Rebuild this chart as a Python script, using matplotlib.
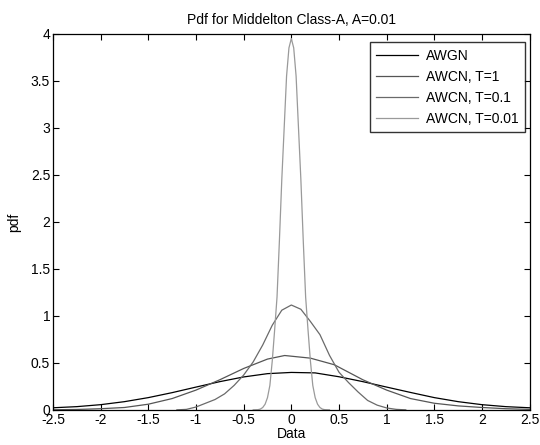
import numpy as np
import matplotlib.pyplot as plt

plt.rcParams['font.family'] = ['Liberation Sans', 'DejaVu Sans']

# --- DATA ---
x_awgn = [-2.5, -2.25, -2.0, -1.75, -1.5, -1.25, -1.0, -0.75, -0.5, -0.25, 0.0,
          0.25, 0.5, 0.75, 1.0, 1.25, 1.5, 1.75, 2.0, 2.25, 2.5]
y_awgn = [0.022, 0.034, 0.055, 0.087, 0.13, 0.183, 0.242, 0.300, 0.350, 0.385, 0.398,
          0.393, 0.352, 0.300, 0.242, 0.185, 0.13, 0.087, 0.055, 0.034, 0.022]

x_t1 = [-2.5, -2.25, -2.0, -1.75, -1.5, -1.25, -1.0, -0.75, -0.5, -0.25, -0.07,
        0.2, 0.45, 0.75, 1.0, 1.25, 1.5, 1.75, 2.0, 2.25, 2.5]
y_t1 = [0.001, 0.004, 0.012, 0.025, 0.06, 0.12, 0.21, 0.32, 0.44, 0.54, 0.578,
        0.55, 0.48, 0.32, 0.21, 0.12, 0.07, 0.042, 0.025, 0.012, 0.005]

x_t01 = [-1.2, -1.1, -1.0, -0.9, -0.8, -0.7, -0.6, -0.5, -0.4, -0.3, -0.2, -0.1, 0.0,
         0.1, 0.2, 0.3, 0.4, 0.5, 0.6, 0.7, 0.8, 0.9, 1.0, 1.1, 1.2]
y_t01 = [0.0, 0.005, 0.03, 0.07, 0.11, 0.17, 0.26, 0.37, 0.51, 0.69, 0.90, 1.06, 1.115,
         1.07, 0.94, 0.80, 0.58, 0.40, 0.29, 0.19, 0.10, 0.05, 0.02, 0.005, 0.0]

x_t001 = [-0.4, -0.35, -0.325, -0.3, -0.275, -0.25, -0.225, -0.2, -0.175, -0.15, -0.125,
          -0.1, -0.075, -0.05, -0.025, 0.0, 0.025, 0.05, 0.075, 0.1, 0.125, 0.15,
          0.175, 0.2, 0.225, 0.25, 0.275, 0.3, 0.325, 0.35, 0.4]
y_t001 = [0.0, 0.002, 0.008, 0.025, 0.06, 0.13, 0.26, 0.52, 0.85, 1.2, 1.8,
          2.45, 3.0, 3.55, 3.85, 3.95, 3.85, 3.55, 3.0, 2.45, 1.8, 1.2,
          0.85, 0.52, 0.26, 0.13, 0.06, 0.025, 0.008, 0.002, 0.0]

labels = ['AWGN', 'AWCN, T=1', 'AWCN, T=0.1', 'AWCN, T=0.01']
xticks = [-2.5, -2, -1.5, -1, -0.5, 0, 0.5, 1, 1.5, 2, 2.5]
yticks = [0, 0.5, 1, 1.5, 2, 2.5, 3, 3.5, 4]

# --- PLOT ---
fig = plt.figure(figsize=(5.4, 4.45), dpi=100)
ax = fig.add_axes([0.098, 0.079, 0.883, 0.845])

ax.plot(x_awgn, y_awgn, color='#000000', lw=0.9, label=labels[0])
ax.plot(x_t1, y_t1, color='#555555', lw=0.9, label=labels[1])
ax.plot(x_t01, y_t01, color='#6a6a6a', lw=0.9, label=labels[2])
ax.plot(x_t001, y_t001, color='#9a9a9a', lw=0.9, label=labels[3])

ax.set_xlim(-2.5, 2.5)
ax.set_ylim(0, 4)
ax.set_xticks(xticks)
ax.set_xticklabels([f'{t:g}' for t in xticks])
ax.set_yticks(yticks)
ax.set_yticklabels([f'{t:g}' for t in yticks])
ax.tick_params(direction='in', top=True, right=True, length=4, width=0.8,
               labelsize=10, pad=2)
for s in ax.spines.values():
    s.set_linewidth(0.9)

ax.set_title('Pdf for Middelton Class-A, A=0.01', fontsize=10, pad=7)
ax.set_xlabel('Data', fontsize=10, labelpad=0)
ax.set_ylabel('pdf', fontsize=10, labelpad=7)

leg = ax.legend(loc='upper right', bbox_to_anchor=(0.99, 0.977), fontsize=10,
                frameon=True, fancybox=False, handlelength=3.0,
                borderaxespad=0, labelspacing=0.5, borderpad=0.45,
                handletextpad=0.6)
leg.get_frame().set_edgecolor('black')
leg.get_frame().set_linewidth(1.0)

fig.savefig('out.png', dpi=100)
